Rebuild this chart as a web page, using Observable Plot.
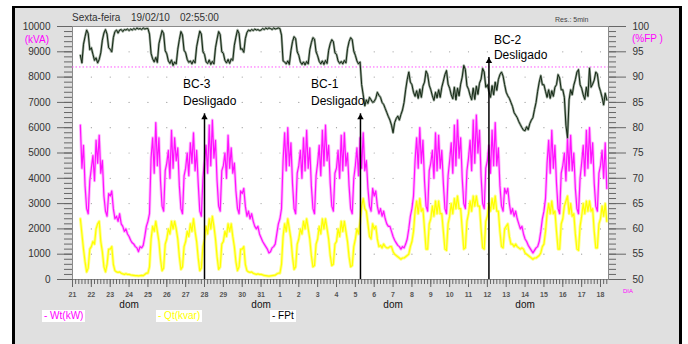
<!DOCTYPE html>
<html><head><meta charset="utf-8">
<script src="https://cdn.jsdelivr.net/npm/d3@7"></script>
<script src="https://cdn.jsdelivr.net/npm/@observablehq/plot@0.6"></script>
<style>
body{margin:0;background:#fff;font-family:"Liberation Sans",Arial,sans-serif;}
#wrap{position:relative;width:688px;height:344px;overflow:hidden;background:#fff;}
#panel{position:absolute;left:12px;top:6px;width:664px;height:345px;background:#e0e0e0;border-left:3px solid #000;border-top:2px solid #000;border-right:3px solid #000;}
#chart{position:absolute;left:0;top:0;}
.t{position:absolute;white-space:nowrap;line-height:1;}
.lg{position:absolute;background:#fff;font-size:10px;line-height:12px;height:12px;padding:0 2px;white-space:nowrap;}
</style></head>
<body><div id="wrap"><div id="panel"></div><div id="chart"></div>
<div class="t" style="left:72px;top:13px;font-size:10px;color:#333">Sexta-feira</div>
<div class="t" style="left:131px;top:13px;font-size:10px;color:#333">19/02/10</div>
<div class="t" style="left:180px;top:13px;font-size:10px;color:#333">02:55:00</div>
<div class="t" style="left:555px;top:16px;font-size:7px;color:#444">Res.: 5min</div>
<div class="t" style="left:20px;width:29px;text-align:right;top:35px;font-size:10px;color:#ff00ff">(kVA)</div>
<div class="t" style="left:632px;top:34px;font-size:10px;color:#ff00ff">(%FP )</div>
<div class="t" style="left:623px;top:288px;font-size:6px;color:#ff00ff">DIA</div>
<div class="lg" style="left:42px;top:310px;color:#ff00ff">- Wt(kW)</div>
<div class="lg" style="left:156px;top:310px;color:#ffff00">- Qt(kvar)</div>
<div class="lg" style="left:270px;top:310px;color:#000">- FPt</div>
</div>
<script>
// Day tick labels (21 Jan .. 18 Feb 2010)
const dayLabels = ["21","22","23","24","25","26","27","28","29","30","31","1","2","3","4","5","6","7","8","9","10","11","12","13","14","15","16","17","18"];
const sundayIdx = [3, 10, 17, 24];
const yTicks = [0,1000,2000,3000,4000,5000,6000,7000,8000,9000,10000];
const fpTicks = [50,55,60,65,70,75,80,85,90,95,100];
const fpRef = 92;

// Samples every 2 h starting 21 Jan 10:00
const wt = [
6100,4400,5300,3700,2800,2600,3900,
4400,4900,3900,5500,4600,5700,4200,4700,3300,2700,2500,3400,
3300,3500,2800,2400,2500,2300,2600,2200,2100,1900,2000,1800,
1700,1550,1450,1400,1300,1250,1100,1300,1250,1350,1700,2100,
2300,2600,4800,5600,4200,6200,4500,5600,3900,2900,2700,4300,
4600,5100,4000,5900,4400,5600,4700,5200,3700,2800,2600,4100,
4400,5000,4100,5400,4600,5800,4300,5100,3800,2700,2500,4000,
4700,5300,4200,6100,4500,6300,4800,5500,3900,2900,2700,4300,
4500,5000,4000,5700,4400,5200,4200,4600,3500,2800,2600,3500,
3400,3600,2900,2500,2700,2400,2600,2300,2100,2000,2100,1800,
1650,1500,1400,1300,1200,1050,1100,1250,1300,1400,1800,2200,
2400,2800,4700,5800,4300,6000,4500,5400,3800,2800,2600,4200,
4500,5100,4000,5600,4300,5900,4400,5200,3700,2800,2600,4100,
4600,5300,4100,5900,4500,6100,4700,5300,3800,2900,2700,4200,
4400,5100,4000,5700,4300,5800,4500,5000,3700,2800,2600,4000,
4500,5200,4100,5600,4400,5800,4300,4700,3600,2900,2700,3600,
3300,3500,2900,2600,2800,2500,2700,2400,2200,2100,2100,1900,
1700,1550,1450,1350,1300,1200,1300,1250,1400,1600,2000,2500,
2800,3300,4700,5600,4400,6000,4600,5500,3900,2900,2700,4300,
4600,5100,4000,5800,4300,5700,4400,5100,3800,2800,2600,4100,
4700,5400,4200,6100,4500,6300,4800,5600,4000,3000,2800,4300,
4800,5500,4300,6300,4600,6500,5000,5900,4100,3000,2800,4400,
4700,5300,4200,5900,4500,6200,4500,5200,3700,2900,2700,3600,
3400,3600,3000,2600,2800,2500,2700,2400,2200,2000,2100,1800,
1600,1500,1350,1250,1150,1050,1150,1250,1300,1500,1900,2400,
2700,3200,4600,5500,4200,5900,4400,5300,3800,2800,2600,4200,
4500,5000,3900,5600,4300,5700,4300,5000,3600,2800,2600,4000,
4600,5300,4100,5900,4400,6000,4600,5400,3800,2900,2700,4200,
4500,5100,4000,5400,3600];
const qt = [
2400,1800,1200,700,300,450,1200,
1300,1500,1400,2000,2200,2300,1500,1100,500,300,600,1200,
1200,1300,600,350,300,280,300,250,220,200,230,200,
200,180,170,160,150,150,140,150,160,150,200,250,
250,500,1600,2100,1900,2300,1900,1500,800,350,450,1400,
1600,2000,1800,2300,2000,2300,2000,1600,900,400,500,1300,
1500,1900,1700,2200,1900,2400,1900,1500,850,350,450,1300,
1600,2100,1800,2400,2000,2500,2100,1600,900,400,500,1400,
1500,1900,1700,2200,1900,2200,1700,1300,700,350,500,1200,
1200,1300,600,350,300,280,300,250,220,200,220,200,
200,180,160,150,140,130,140,150,160,170,220,250,
250,600,1700,2200,1900,2400,2000,1600,900,400,500,1400,
1600,2000,1800,2300,2000,2400,2000,1600,950,500,550,1400,
1600,2100,1800,2400,2000,2400,2000,1600,950,550,600,1400,
1500,2000,1700,2300,1900,2300,1900,1500,900,500,550,1300,
1600,2000,1800,2300,2900,3200,2800,2700,2200,1700,1600,2200,
2000,2100,1600,1300,1350,1250,1400,1300,1250,1250,1300,1300,
1100,1000,950,900,850,800,850,850,900,950,1000,1300,
1500,1900,2700,3100,2600,3200,2700,2800,2000,1200,1200,2200,
2400,2900,2500,3100,2600,3100,2600,2600,1900,1200,1150,2200,
2500,3000,2600,3200,2800,3300,2800,2800,2000,1200,1250,2300,
2600,3100,2700,3300,2900,3300,2900,2900,2000,1250,1200,2300,
2500,3000,2700,3200,2800,3300,2700,2700,1900,1300,1250,2000,
2100,2200,1700,1400,1400,1300,1400,1300,1250,1200,1250,1200,
1050,1000,950,900,850,800,850,850,900,950,1050,1300,
1400,1900,2600,3000,2600,3100,2600,2700,1900,1200,1200,2200,
2400,2900,3100,3300,2600,3000,2500,2600,1800,1200,1150,2100,
2500,3000,2600,3100,2700,3100,2700,2800,1900,1250,1250,2200,
2400,2900,2500,3000,2300];
const fp = [
94.3,92.8,96.5,98.0,99.3,98.6,95.4,
95.8,94.5,93.3,93.8,92.8,93.5,94.8,97.3,98.7,99.4,98.5,95.8,
95.5,95.0,97.8,99.0,99.3,98.7,99.3,99.4,99.0,99.4,99.3,99.5,
99.2,99.5,99.3,99.6,99.4,99.7,99.5,99.6,99.4,99.7,99.5,99.6,
99.6,98.5,94.7,93.6,93.0,93.9,92.9,96.6,97.9,99.2,98.6,95.2,
94.6,93.2,92.7,93.4,92.3,93.0,92.6,95.5,97.4,99.0,98.3,95.3,
94.8,93.5,92.9,93.2,92.6,93.3,92.8,96.0,97.6,99.1,98.5,95.0,
94.5,93.0,92.7,93.4,92.5,93.1,92.6,95.8,97.5,99.0,98.4,95.0,
94.7,93.3,92.8,93.5,92.7,93.6,93.3,96.3,97.9,99.3,98.6,95.5,
95.6,94.9,97.6,98.8,99.3,99.1,99.4,99.2,99.5,99.3,99.4,99.2,
99.3,99.6,99.4,99.7,99.5,99.7,99.6,99.4,99.7,99.5,99.6,99.7,
99.6,98.3,93.2,93.0,92.6,93.2,92.5,95.2,97.0,98.0,97.6,95.0,
94.3,93.0,92.5,93.0,92.4,93.1,92.6,95.4,96.8,97.8,97.5,95.0,
94.2,93.1,92.6,93.2,92.5,93.3,92.7,95.3,96.6,97.4,97.0,94.8,
94.5,93.2,92.7,93.1,92.6,93.3,92.8,95.6,97.0,97.8,97.4,95.1,
94.3,93.2,92.6,93.0,88.5,86.5,84.3,85.5,84.8,86.0,85.5,85.0,
85.2,85.8,87.0,86.4,86.0,85.0,84.6,83.8,83.0,82.2,81.5,80.5,
79.0,81.0,81.8,82.3,81.5,82.6,83.5,85.0,87.5,89.5,91.0,89.0,
88.5,87.0,86.2,87.3,85.8,87.6,86.0,88.2,89.0,91.2,90.5,88.4,
87.5,86.3,85.4,87.0,85.9,87.5,86.0,88.0,89.2,90.5,91.3,88.6,
87.8,86.5,85.7,88.0,85.5,87.8,86.3,88.6,90.0,92.3,91.5,88.3,
87.6,86.4,85.5,87.8,85.6,88.2,86.6,88.8,89.6,91.7,91.0,88.0,
88.5,87.2,86.0,88.3,86.5,89.0,87.4,89.5,90.5,91.0,90.2,88.5,
87.0,86.3,85.8,85.0,84.2,83.0,82.5,82.0,81.2,80.6,80.0,79.5,
79.4,80.2,79.6,80.8,81.5,82.0,83.6,85.0,87.2,89.0,90.3,88.5,
88.5,87.2,86.0,87.5,85.8,87.3,86.2,88.0,88.5,90.5,89.8,87.5,
87.5,86.0,80.5,78.0,85.5,87.5,86.5,88.4,89.5,91.0,91.5,88.5,
87.8,86.5,85.6,88.0,86.2,91.8,88.0,88.6,89.4,91.0,90.6,88.2,
87.2,86.0,84.5,86.8,85.5];

// Annotations: capacitor banks switched off
const annNames = ["BC-3","BC-1","BC-2"];
const annTimes = [Date.UTC(2010,0,28,0), Date.UTC(2010,1,5,6,30), Date.UTC(2010,1,12,2)];
const annTips = [6550, 6550, 8770];

// ---- build tables ----
const DAY = 864e5, HOUR = 36e5;
const t0 = Date.UTC(2010,0,21);
const tEnd = t0 + 28.424 * DAY;
const sStart = Date.UTC(2010,0,21,10);
const rows = wt.map((v,i) => ({t: new Date(sStart + i*2*HOUR), wt: v, qt: qt[i], fp: fp[i]}));
const fpToY = f => (f - 50) * 200;
const dayDates = dayLabels.map((_, i) => new Date(t0 + i*DAY));
const labelOf = new Map(dayDates.map((d,i) => [+d, dayLabels[i]]));
const minorX = d3.range(0, 171).map(k => new Date(t0 + k*DAY/6)).filter(d => +d <= tEnd);
const sundays = sundayIdx.map(i => dayDates[i]);
const gridPts = [];
for (let i = 1; i < dayDates.length; i++) for (let v = 1000; v <= 9000; v += 1000) gridPts.push({t: dayDates[i], v});
const ann = annNames.map((n,i) => ({name: n, t: new Date(annTimes[i]), tip: annTips[i]}));
const offs = [[-21.5,-30,-13],[-49.5,-30,-13],[5,-17,-2]];

const tickCol = "#666", labCol = "#333";
const annMarks = ann.flatMap((a,i) => [
  Plot.text([a], {x:"t", y:"tip", text: d => d.name, dx: offs[i][0], dy: offs[i][1], textAnchor:"start", fontSize: 12, fill:"#000"}),
  Plot.text([a], {x:"t", y:"tip", text: () => "Desligado", dx: offs[i][0], dy: offs[i][2], textAnchor:"start", fontSize: 12, fill:"#000"})
]);

const chart = Plot.plot({
  width: 688, height: 344,
  marginLeft: 72, marginRight: 80, marginTop: 26, marginBottom: 65,
  style: {background: "transparent", fontFamily: "'Liberation Sans', Arial, sans-serif", overflow: "visible"},
  x: {type: "utc", domain: [new Date(t0), new Date(tEnd)]},
  y: {domain: [0, 10000]},
  marks: [
    Plot.frame({fill: "white", stroke: "#8a8a8a"}),
    Plot.dot(gridPts, {x: "t", y: "v", r: 0.6, fill: "#9a9a9a", stroke: null}),
    Plot.ruleY([fpRef], {y: fpToY, stroke: "#ff55ff", strokeWidth: 1, strokeDasharray: "1.5,2"}),
    Plot.line(rows, {x: "t", y: "qt", stroke: "#ffff70", strokeWidth: 3, strokeOpacity: 0.8}),
    Plot.line(rows, {x: "t", y: "qt", stroke: "#ffff00", strokeWidth: 1.2}),
    Plot.line(rows, {x: "t", y: "wt", stroke: "#ff9dff", strokeWidth: 3, strokeOpacity: 0.75}),
    Plot.line(rows, {x: "t", y: "wt", stroke: "#ff11ff", strokeWidth: 1.2}),
    Plot.line(rows, {x: "t", y: d => fpToY(d.fp), stroke: "#7f907f", strokeWidth: 2.4, strokeOpacity: 0.8}),
    Plot.line(rows, {x: "t", y: d => fpToY(d.fp), stroke: "#142814", strokeWidth: 1}),
    Plot.ruleX(ann, {x: "t", y1: 0, y2: "tip", stroke: "#000", strokeWidth: 1.5}),
    Plot.dot(ann, {x: "t", y: "tip", symbol: "triangle", r: 2.4, fill: "#000", stroke: null, dy: 3.6}),
    ...annMarks,
    // x axis: day ticks + labels, minor ticks every 4 h
    Plot.axisX(minorX, {tickSize: 5, tickFormat: () => "", stroke: tickCol, label: null}),
    Plot.axisX(dayDates, {tickSize: 8, tickPadding: 5, tickFormat: d => labelOf.get(+d), fontSize: 7, fontWeight: "bold", fill: "#555", stroke: tickCol, label: null}),
    Plot.text(sundays, {x: d => d, text: () => "dom", frameAnchor: "bottom", dy: 28, fontSize: 10, fill: "#111"}),
    // left axis
    Plot.axisY(d3.range(0, 10001, 200), {anchor: "left", tickSize: 8, tickFormat: () => "", stroke: tickCol, label: null}),
    Plot.axisY(yTicks, {anchor: "left", tickSize: 15, tickPadding: 7, tickFormat: d => String(d), fontSize: 10, fill: labCol, stroke: tickCol, label: null}),
    // right axis (%FP)
    Plot.axisY(d3.range(50, 101, 1).map(fpToY), {anchor: "right", tickSize: 7, tickFormat: () => "", stroke: tickCol, label: null}),
    Plot.axisY(fpTicks.map(fpToY), {anchor: "right", tickSize: 17, tickPadding: 7, tickFormat: d => String(d/200 + 50), fontSize: 10, fill: labCol, stroke: tickCol, label: null})
  ]
});
document.getElementById("chart").appendChild(chart);
</script></body></html>
